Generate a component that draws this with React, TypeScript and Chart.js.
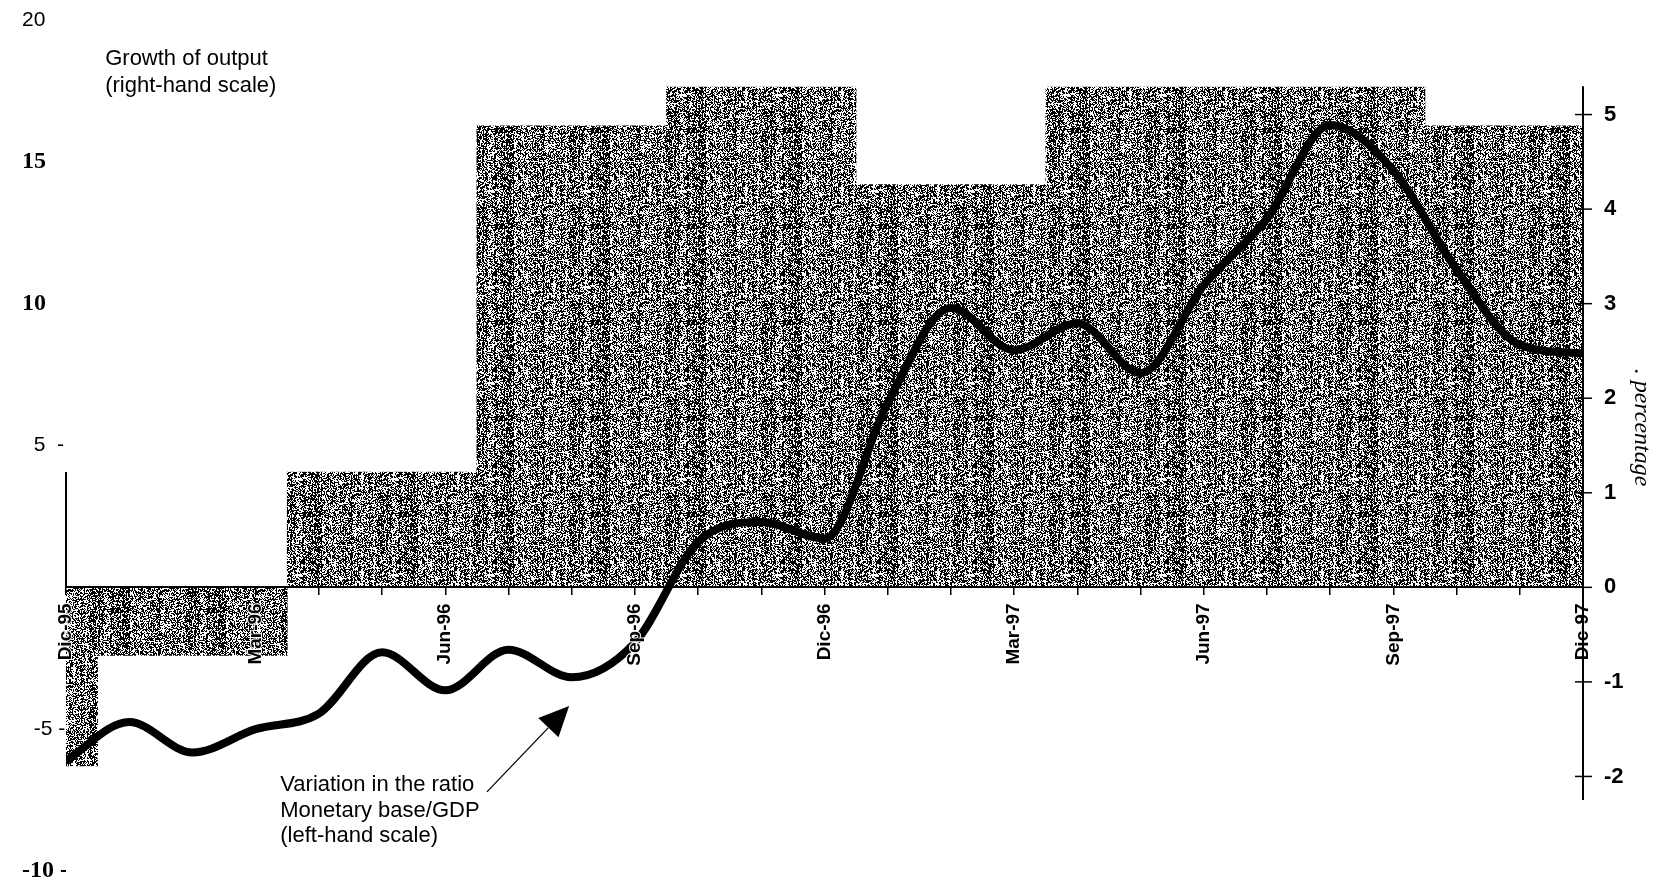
import React, { useEffect, useRef } from 'react';
import { Chart, registerables } from 'chart.js';

Chart.register(...registerables);

// ---- Data ----
const months = [
  'Dic-95', 'Ene-96', 'Feb-96', 'Mar-96', 'Abr-96', 'May-96', 'Jun-96', 'Jul-96', 'Ago-96',
  'Sep-96', 'Oct-96', 'Nov-96', 'Dic-96', 'Ene-97', 'Feb-97', 'Mar-97', 'Abr-97', 'May-97',
  'Jun-97', 'Jul-97', 'Ago-97', 'Sep-97', 'Oct-97', 'Nov-97', 'Dic-97',
];
// Variation in the ratio Monetary base/GDP (left-hand scale), monthly
const ratioValues = [
  -6.1, -4.75, -5.82, -5.0, -4.45, -2.29, -3.63, -2.2, -3.17, -1.95, 1.6, 2.3, 1.72,
  6.5, 9.85, 8.36, 9.31, 7.55, 10.65, 13.0, 16.3, 14.7, 11.2, 8.55, 8.25,
];
// Growth of output (right-hand scale), quarterly
const quarters = ['IV-95', 'I-96', 'II-96', 'III-96', 'IV-96', 'I-97', 'II-97', 'III-97', 'IV-97'];
const quarterMidMonth = [-1, 2, 5, 8, 11, 14, 17, 20, 23];
const outputGrowth = [-1.89, -0.72, 1.22, 4.88, 5.29, 4.26, 5.29, 5.29, 4.88];

const leftTickText: Record<string, string> = {
  '20': '20', '15': '15', '10': '10', '5': '  5  -', '0': '', '-5': '  -5 -«', '-10': '-10 -*-',
};
const serifBoldTicks = [15, 10, -10];
const rightTickValues = [-2, -1, 0, 1, 2, 3, 4, 5];
const rightAxisSpan = [-2.25, 5.3];
const leftStubValue = 1.22;

const growthLabel = ['Growth of output', '(right-hand scale)'];
const growthLabelAnchor = { x: 0.62, y: 18.41 };
const ratioLabel = ['Variation in the ratio', 'Monetary base/GDP', '(left-hand scale)'];
const ratioLabelAnchor = { x: 3.39, y: -7.18 };
const arrowTail = { x: 6.66, y: -7.21 };
const arrowTip = { x: 7.96, y: -4.18 };

const SANS = '"Liberation Sans", Arial, sans-serif';
const SERIF = '"Liberation Serif", "Times New Roman", serif';

function hash(a: number, b: number): number {
  let h = Math.imul(a + 1, 0x9e3779b1) ^ Math.imul(b + 7, 0x85ebca77);
  h ^= h >>> 15;
  h = Math.imul(h, 0x2c1b3c6d);
  h ^= h >>> 12;
  h = Math.imul(h, 0x297a2d39);
  h ^= h >>> 15;
  return (h >>> 0) / 4294967296;
}

function makeTexture(): CanvasPattern | string {
  const size = 96;
  const c = document.createElement('canvas');
  c.width = size;
  c.height = size;
  const g = c.getContext('2d');
  if (!g) return '#808080';
  const img = g.createImageData(size, size);
  for (let y = 0; y < size; y++) {
    for (let x = 0; x < size; x++) {
      const colBias = hash(x, 999);
      const r = hash(x, y);
      const p = 0.34 + 0.34 * colBias + ((x % 3 === 0) ? 0.12 : 0);
      const v = r < p ? 0 : 255;
      const i = (y * size + x) * 4;
      img.data[i] = v;
      img.data[i + 1] = v;
      img.data[i + 2] = v;
      img.data[i + 3] = 255;
    }
  }
  g.putImageData(img, 0, 0);
  const pat = g.createPattern(c, 'repeat');
  return pat || '#808080';
}

const overlayPlugin = {
  id: 'overlay',
  afterDraw(chart: any) {
    const ctx = chart.ctx as CanvasRenderingContext2D;
    const xs = chart.scales.x;
    const yl = chart.scales.y;
    const yr = chart.scales.y1;
    const area = chart.chartArea;
    ctx.save();
    ctx.strokeStyle = '#000';
    ctx.fillStyle = '#000';

    // right-hand axis line with cross ticks
    ctx.lineWidth = 2;
    ctx.beginPath();
    ctx.moveTo(area.right, yr.getPixelForValue(rightAxisSpan[1]));
    ctx.lineTo(area.right, yr.getPixelForValue(rightAxisSpan[0]));
    ctx.stroke();
    ctx.lineWidth = 1.5;
    for (const v of rightTickValues) {
      const y = yr.getPixelForValue(v);
      ctx.beginPath();
      ctx.moveTo(area.right - 8, y);
      ctx.lineTo(area.right + 9, y);
      ctx.stroke();
    }

    // thin stub at the left edge
    ctx.lineWidth = 2;
    ctx.beginPath();
    ctx.moveTo(area.left, yr.getPixelForValue(0));
    ctx.lineTo(area.left, yr.getPixelForValue(leftStubValue));
    ctx.stroke();

    // annotation texts
    ctx.font = `22px ${SANS}`;
    ctx.textAlign = 'left';
    ctx.textBaseline = 'alphabetic';
    const gx = xs.getPixelForValue(growthLabelAnchor.x);
    const gy = yl.getPixelForValue(growthLabelAnchor.y);
    growthLabel.forEach((t, i) => ctx.fillText(t, gx, gy + i * 27));
    const rx = xs.getPixelForValue(ratioLabelAnchor.x);
    const ry = yl.getPixelForValue(ratioLabelAnchor.y);
    ratioLabel.forEach((t, i) => ctx.fillText(t, rx, ry + i * 25.5));

    // arrow
    const tx = xs.getPixelForValue(arrowTail.x);
    const ty = yl.getPixelForValue(arrowTail.y);
    const hx = xs.getPixelForValue(arrowTip.x);
    const hy = yl.getPixelForValue(arrowTip.y);
    const ang = Math.atan2(hy - ty, hx - tx);
    const headLen = 30;
    const headHalf = 14;
    const bx = hx - headLen * Math.cos(ang);
    const by = hy - headLen * Math.sin(ang);
    ctx.lineWidth = 1.3;
    ctx.beginPath();
    ctx.moveTo(tx, ty);
    ctx.lineTo(bx, by);
    ctx.stroke();
    ctx.beginPath();
    ctx.moveTo(hx, hy);
    ctx.lineTo(bx + headHalf * Math.sin(ang), by - headHalf * Math.cos(ang));
    ctx.lineTo(bx - headHalf * Math.sin(ang), by + headHalf * Math.cos(ang));
    ctx.closePath();
    ctx.fill();
    ctx.restore();
  },
};

export default function App() {
  const ref = useRef<HTMLCanvasElement | null>(null);

  useEffect(() => {
    const canvas = ref.current;
    if (!canvas) return;
    const texture = makeTexture();
    const chart = new Chart(canvas, {
      type: 'bar',
      data: {
        datasets: [
          {
            type: 'line',
            label: 'Variation in the ratio Monetary base/GDP (left-hand scale)',
            data: ratioValues.map((v, i) => ({ x: i, y: v })),
            xAxisID: 'x',
            yAxisID: 'y',
            borderColor: '#000',
            borderWidth: 8,
            pointRadius: 0,
            tension: 0.4,
            cubicInterpolationMode: 'monotone',
            borderCapStyle: 'round',
            borderJoinStyle: 'round',
            fill: false,
            order: 0,
          } as any,
          {
            type: 'bar',
            label: 'Growth of output (right-hand scale)',
            data: outputGrowth.map((v, i) => ({ x: quarterMidMonth[i], y: v, q: quarters[i] })),
            xAxisID: 'x',
            yAxisID: 'y1',
            backgroundColor: texture,
            borderWidth: 0,
            barThickness: 'flex',
            categoryPercentage: 1,
            barPercentage: 1,
            clip: 0,
            order: 1,
          } as any,
        ],
      },
      options: {
        responsive: false,
        animation: false,
        devicePixelRatio: 1,
        layout: { padding: { left: 22, top: 20, right: 0, bottom: 15 } },
        plugins: { legend: { display: false }, tooltip: { enabled: false } },
        scales: {
          x: {
            type: 'linear',
            min: 0,
            max: 24,
            offset: false,
            position: { y: 0 } as any,
            grid: {
              display: true,
              offset: false,
              drawOnChartArea: false,
              drawTicks: true,
              tickLength: 7,
              color: '#000',
              lineWidth: 1.5,
              z: 1,
            },
            border: { display: true, color: '#000', width: 2, z: 1 },
            ticks: {
              z: 1,
              stepSize: 1,
              autoSkip: false,
              minRotation: 90,
              maxRotation: 90,
              padding: 9,
              color: '#000',
              textStrokeColor: '#fff',
              textStrokeWidth: 2,
              font: { family: SANS, size: 19, weight: 'bold' },
              callback: (v: any) => {
                const i = Math.round(Number(v));
                return i % 3 === 0 ? months[i] : '';
              },
            },
          },
          y: {
            type: 'linear',
            position: 'left',
            min: -10,
            max: 20,
            grid: { display: false, drawTicks: false },
            border: { display: false },
            afterFit: (s: any) => { s.width = 44; },
            ticks: {
              stepSize: 5,
              crossAlign: 'far',
              padding: 0,
              color: '#000',
              font: (c: any) => {
                const v = c.tick ? c.tick.value : 0;
                return serifBoldTicks.includes(v)
                  ? { family: SERIF, size: 24, weight: 'bold' }
                  : { family: SANS, size: 21, weight: 'normal' };
              },
              callback: (v: any) => leftTickText[String(v)] ?? '',
            },
          },
          y1: {
            type: 'linear',
            position: 'right',
            min: -3,
            max: 6,
            grid: { display: false, drawTicks: true, tickLength: 21 },
            border: { display: false },
            afterFit: (s: any) => { s.width = 73; },
            ticks: {
              stepSize: 1,
              padding: 0,
              color: '#000',
              font: { family: SANS, size: 22, weight: 'bold' },
              callback: (v: any) => (rightTickValues.includes(Number(v)) ? String(v) : ''),
            },
            title: {
              display: true,
              text: '. percentage      ',
              color: '#000',
              font: { family: SERIF, size: 24, style: 'italic' },
              padding: 0,
            },
          },
        },
      } as any,
      plugins: [overlayPlugin],
    });
    return () => chart.destroy();
  }, []);

  return (
    <div style={{ position: 'fixed', left: 0, top: 0, width: 1656, height: 886, background: '#fff' }}>
      <canvas ref={ref} width={1656} height={886} style={{ display: 'block', width: 1656, height: 886 }} />
    </div>
  );
}
